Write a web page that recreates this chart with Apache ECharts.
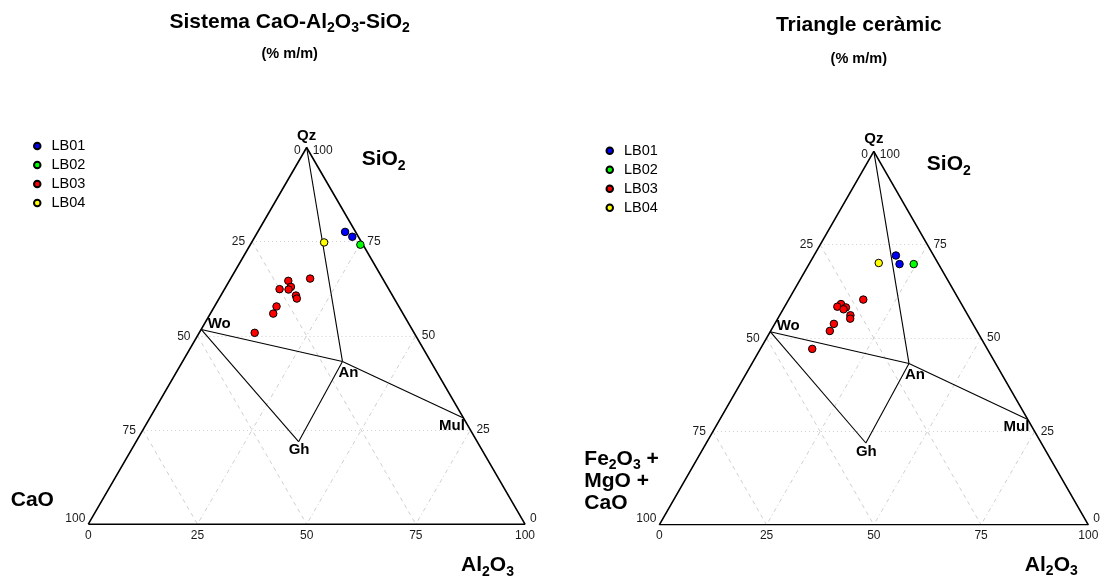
<!DOCTYPE html>
<html>
<head>
<meta charset="utf-8">
<title>Sistema CaO-Al2O3-SiO2 · Triangle ceràmic</title>
<script src="https://cdn.jsdelivr.net/npm/echarts@6/dist/echarts.min.js"></script>
<style>
  html, body { margin: 0; padding: 0; background: #ffffff; }
  #chart { width: 1106px; height: 578px; }
</style>
</head>
<body>
<div id="chart"></div>
<script>
// ---------- data ----------
const seriesNames = ['LB01', 'LB02', 'LB03', 'LB04'];
const tickValues = [0, 25, 50, 75, 100];
const gridValues = [25, 50, 75];

// Sistema CaO-Al2O3-SiO2, compositions [SiO2, Al2O3, CaO] (% m/m)
const casLB01 = [[77.6, 20.0, 2.4], [76.3, 22.3, 1.4]];
const casLB02 = [[74.2, 25.2, 0.6]];
const casLB03 = [
  [65.2, 18.2, 16.6], [64.6, 13.5, 21.9], [63.0, 14.9, 22.1], [62.4, 12.6, 25.0],
  [62.3, 14.7, 23.0], [60.7, 17.2, 22.1], [59.9, 17.8, 22.3], [57.8, 14.2, 28.0],
  [55.9, 14.4, 29.7], [50.8, 12.7, 36.5]
];
const casLB04 = [[74.8, 16.6, 8.6]];

// Triangle ceràmic, compositions [SiO2, Al2O3, Fe2O3 + MgO + CaO] (% m/m)
const cerLB01 = [[72.1, 19.1, 8.8], [69.8, 21.1, 9.1]];
const cerLB02 = [[69.8, 24.4, 5.8]];
const cerLB03 = [
  [60.3, 17.4, 22.3], [59.1, 12.8, 28.1], [58.4, 12.3, 29.3], [58.2, 14.4, 27.4],
  [57.7, 14.1, 28.2], [56.1, 16.5, 27.4], [55.2, 16.9, 27.9], [53.8, 13.8, 32.4],
  [51.9, 13.8, 34.3], [47.1, 12.1, 40.8]
];
const cerLB04 = [[70.1, 16.1, 13.8]];

// Reference phases [SiO2, Al2O3, CaO]
const mineralNames = ['Qz', 'Wo', 'An', 'Mul', 'Gh'];
const mineralComp = [
  [100, 0, 0],
  [51.7, 0, 48.3],
  [43.2, 36.6, 20.2],
  [28.2, 71.8, 0],
  [21.9, 37.2, 40.9]
];
const tieLines = [['Qz', 'An'], ['Wo', 'An'], ['An', 'Mul'], ['Wo', 'Gh'], ['Gh', 'An']];

// ---------- styling / layout ----------
const FONT = '"Liberation Sans", Arial, Helvetica, sans-serif';
const seriesColors = ['#0000ff', '#00ff00', '#ff0000', '#ffff00'];
const GRID_COLOR = '#cfcfcf';

const panels = [
  {
    title: 'Sistema CaO-Al2O3-SiO2',
    titleX: 289.7, titleTop: 10.8, titleGap: 8,
    grid: { left: 88.3, top: 147.5, width: 436.7, height: 376.7 },
    legend: { left: 33, top: 136.5 },
    samples: [casLB01, casLB02, casLB03, casLB04],
    apexName: 'SiO2', apexNameOffset: [77, 12],
    leftName: 'CaO', leftNameAlign: 'center', leftNameOffset: [-56, -24],
    rightName: 'Al2O3', rightNameOffset: [-37.5, 41]
  },
  {
    title: 'Triangle ceràmic',
    titleX: 858.8, titleTop: 14.2, titleGap: 14.5,
    grid: { left: 659.3, top: 151.3, width: 429, height: 373.5 },
    legend: { left: 605.5, top: 141.2 },
    samples: [cerLB01, cerLB02, cerLB03, cerLB04],
    apexName: 'SiO2', apexNameOffset: [75, 13],
    leftName: 'Fe2O3 +\nMgO +\nCaO', leftNameAlign: 'left', leftNameOffset: [-75, -44],
    rightName: 'Al2O3', rightNameOffset: [-37, 40]
  }
];

// ---------- helpers ----------
const SQ3_2 = Math.sqrt(3) / 2;
// ternary [SiO2, Al2O3, third] -> cartesian (side = 100)
function toXY(c) {
  const t = c[0] + c[1] + c[2];
  const si = c[0] / t * 100, al = c[1] / t * 100;
  return [al + si / 2, si * SQ3_2];
}
// chemical formula digits as subscripts
function chem(str) { return str.replace(/(\d+)/g, '{s|$1}'); }
const subStyle = {
  fontFamily: FONT, fontSize: 14, fontWeight: 'bold', color: '#000',
  lineHeight: 22, padding: [13, 0, 0, 0]
};
const nameLabel = {
  fontFamily: FONT, fontSize: 21, fontWeight: 'bold', color: '#000',
  lineHeight: 22, rich: { s: subStyle }
};
const tickLabel = { fontFamily: FONT, fontSize: 12, color: '#1a1a1a' };
const mineralLabel = { fontFamily: FONT, fontSize: 15, fontWeight: 'bold', color: '#000' };

function labelSeries(i, items, style) {
  return {
    type: 'scatter', xAxisIndex: i, yAxisIndex: i,
    symbolSize: 1, silent: true, clip: false, z: 6,
    itemStyle: { color: 'rgba(0,0,0,0)', opacity: 1 },
    label: Object.assign({ show: true, position: 'inside', formatter: p => p.name }, style),
    data: items.map(it => ({
      name: it.text, value: toXY(it.comp),
      label: { offset: it.offset, align: it.align || 'center' }
    }))
  };
}
function segSeries(i, segs, lineStyle, z) {
  return {
    type: 'lines', coordinateSystem: 'cartesian2d', xAxisIndex: i, yAxisIndex: i,
    silent: true, z: z, lineStyle: Object.assign({ opacity: 1, curveness: 0 }, lineStyle),
    data: segs.map(s => ({ coords: [toXY(s[0]), toXY(s[1])] }))
  };
}

// ---------- option ----------
const option = {
  animation: false,
  backgroundColor: '#ffffff',
  title: panels.map(p => ({
    text: chem(p.title), subtext: '(% m/m)',
    left: p.titleX, top: p.titleTop, textAlign: 'center', padding: 0, itemGap: p.titleGap,
    textStyle: nameLabel,
    subtextStyle: { fontFamily: FONT, fontSize: 14.5, fontWeight: 'bold', color: '#000', lineHeight: 16 }
  })),
  legend: panels.map(p => ({
    data: seriesNames, orient: 'vertical', left: p.legend.left, top: p.legend.top,
    padding: 0, itemGap: 0, itemWidth: 6.5, itemHeight: 6.5, icon: 'circle',
    selectedMode: false,
    textStyle: { fontFamily: FONT, fontSize: 14.5, color: '#000', lineHeight: 19, padding: [0, 0, 0, 6] }
  })),
  grid: panels.map(p => Object.assign({ containLabel: false }, p.grid)),
  xAxis: panels.map((p, i) => ({ gridIndex: i, type: 'value', min: 0, max: 100, show: false })),
  yAxis: panels.map((p, i) => ({ gridIndex: i, type: 'value', min: 0, max: 100 * SQ3_2, show: false })),
  series: []
};

panels.forEach((p, i) => {
  const S = option.series;
  // grid: SiO2 const (dotted), CaO const (dashed), Al2O3 const (dot-dash)
  S.push(segSeries(i, gridValues.map(v => [[v, 0, 100 - v], [v, 100 - v, 0]]),
    { color: GRID_COLOR, width: 1, type: [1, 3] }, 1));
  S.push(segSeries(i, gridValues.map(v => [[100 - v, 0, v], [0, 100 - v, v]]),
    { color: GRID_COLOR, width: 1, type: [4, 4] }, 1));
  S.push(segSeries(i, gridValues.map(v => [[0, v, 100 - v], [100 - v, v, 0]]),
    { color: GRID_COLOR, width: 1, type: [1, 3, 4, 3] }, 1));

  // triangle frame
  S.push({
    type: 'line', xAxisIndex: i, yAxisIndex: i, silent: true, z: 2,
    symbol: 'none', lineStyle: { color: '#000', width: 1.6 },
    data: [[0, 0, 100], [0, 100, 0], [100, 0, 0], [0, 0, 100]].map(toXY)
  });

  // phase tie lines
  const comp = n => mineralComp[mineralNames.indexOf(n)];
  S.push(segSeries(i, tieLines.map(t => [comp(t[0]), comp(t[1])]),
    { color: '#000', width: 1.1, type: 'solid' }, 3));

  // samples
  p.samples.forEach((arr, k) => {
    S.push({
      name: seriesNames[k], type: 'scatter', xAxisIndex: i, yAxisIndex: i, z: 5,
      symbol: 'circle', symbolSize: 7.5,
      itemStyle: { color: seriesColors[k], borderColor: '#000', borderWidth: 1, opacity: 1 },
      data: arr.map(toXY)
    });
  });

  // tick labels
  const ticks = [];
  tickValues.forEach(v => {
    ticks.push({ text: String(v), comp: [0, v, 100 - v], offset: [0, 11] });
    ticks.push({
      text: String(v), comp: [100 - v, 0, v], align: 'right',
      offset: v === 0 ? [-6, 3] : v === 100 ? [-3, -6] : [-7, 0.5]
    });
    ticks.push({
      text: String(v), comp: [v, 100 - v, 0], align: 'left',
      offset: v === 100 ? [6, 3] : v === 0 ? [5, -6] : [6, 0]
    });
  });
  S.push(labelSeries(i, ticks, tickLabel));

  // phase labels
  const mOffsets = { Qz: [0, -12], Wo: [6.5, -5.5], An: [6, 11], Mul: [1.5, 7.5], Gh: [0.5, 8.5] };
  const mAlign = { Qz: 'center', Wo: 'left', An: 'center', Mul: 'right', Gh: 'center' };
  S.push(labelSeries(i, mineralNames.map((n, k) => ({
    text: n, comp: mineralComp[k], offset: mOffsets[n], align: mAlign[n]
  })), mineralLabel));

  // component names
  S.push(labelSeries(i, [
    { text: chem(p.apexName), comp: [100, 0, 0], offset: p.apexNameOffset },
    { text: chem(p.leftName), comp: [0, 0, 100], offset: p.leftNameOffset, align: p.leftNameAlign },
    { text: chem(p.rightName), comp: [0, 100, 0], offset: p.rightNameOffset }
  ], nameLabel));
});

const chart = echarts.init(document.getElementById('chart'), null, { renderer: 'canvas' });
chart.setOption(option);
</script>
</body>
</html>
